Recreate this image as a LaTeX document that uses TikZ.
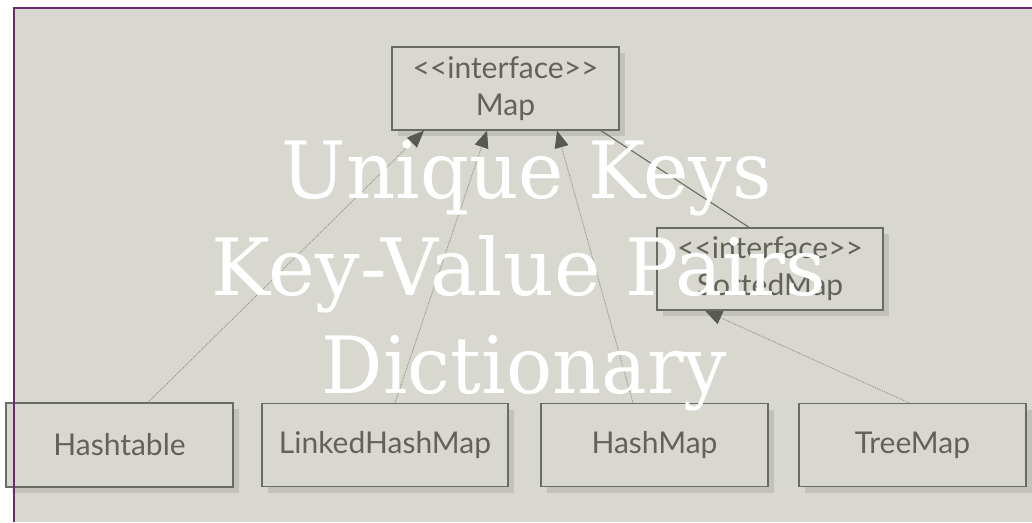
\documentclass[tikz,border=0pt]{standalone}
\usepackage{fontspec}
\setsansfont{Lato}
\newfontfamily\slabfont{DejaVu Serif}
\usepackage{tikz}
\usetikzlibrary{arrows.meta,shadows}
\definecolor{slbg}{HTML}{D9D8D0}
\definecolor{slpurple}{HTML}{6A2C6C}
\definecolor{slline}{HTML}{6B6B66}
\definecolor{sldot}{HTML}{8E8E88}
\definecolor{sltext}{HTML}{62625B}
\definecolor{sltip}{HTML}{585953}
\tikzset{
  cls/.style={draw=slline,line width=1.3pt,fill=slbg,minimum width=227pt,
              minimum height=83pt,inner sep=2pt,align=center,text=sltext,
              font=\sffamily\fontsize{30}{37}\selectfont,
              drop shadow={shadow xshift=6pt,shadow yshift=-6pt,fill=black,opacity=.1}},
  real/.style={-{Triangle[length=17pt,width=14pt,color=sltip]},densely dotted,
               line width=.9pt,sldot},
  ext/.style={line width=1.1pt,slline},
  title/.style={anchor=base,text=white,inner sep=0pt,
                font=\slabfont\fontsize{79}{95}\selectfont},
}

\begin{document}
\begin{tikzpicture}[x=1pt,y=-1pt]
  \useasboundingbox (0,0) rectangle (1032,522);
  % slide background
  \fill[white] (0,0) rectangle (1032,522);
  \fill[slbg] (14,7) rectangle (1032,522);
  % class diagram
  \node[cls] (map)    at (505.5,88.5) {{<}{<}interface{>}{>}\\Map};
  \node[cls,minimum width=226pt,minimum height=82pt] (sorted) at (770,269)
       {{<}{<}interface{>}{>}\\SortedMap};
  \node[cls,minimum height=84pt] (hashtable) at (119.5,445) {Hashtable};
  \node[cls,minimum width=246pt] (linked) at (385,445) {LinkedHashMap};
  \node[cls] (hashmap) at (654.5,445) {HashMap};
  \node[cls] (treemap) at (912.5,445) {TreeMap};
  \draw[real] ([xshift=28.5pt]hashtable.north) -- ([xshift=-81.5pt]map.south);
  \draw[real] ([xshift=10pt]linked.north) -- ([xshift=-18.5pt]map.south);
  \draw[real] ([xshift=-21.5pt]hashmap.north) -- ([xshift=51.5pt]map.south);
  \draw[ext] ([xshift=-21pt]sorted.north) -- ([xshift=95.5pt]map.south);
  \draw[real] ([xshift=-3.5pt]treemap.north) -- ([xshift=-65pt]sorted.south);
  % frame
  \draw[slpurple,line width=2pt] (14,522) -- (14,7.5) -- (1032,7.5);
  % overlay
  \begin{scope}[shift={(526.5,198)},xscale=.97,transform shape]
    \node[title] (keys) at (0,0) {Unique Keys};
  \end{scope}
  \begin{scope}[shift={(519,295)},xscale=1.0,transform shape]
    \node[title] (pairs) at (0,0) {Key-Value Pairs};
  \end{scope}
  \begin{scope}[shift={(524.5,393)},xscale=.97,transform shape]
    \node[title] (dict) at (0,0) {Dictionary};
  \end{scope}
\end{tikzpicture}
\end{document}
